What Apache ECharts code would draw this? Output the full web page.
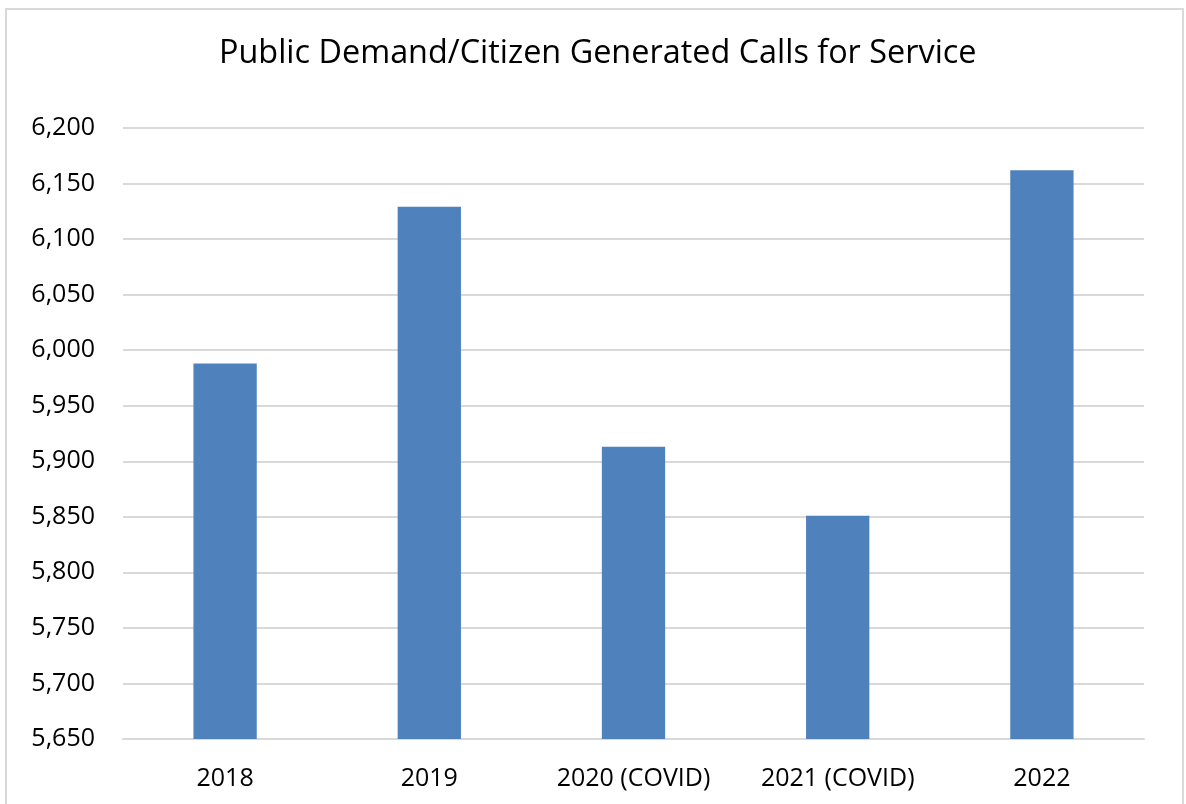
<!DOCTYPE html>
<html>
<head>
<meta charset="utf-8">
<script src="https://cdn.jsdelivr.net/npm/echarts@6/dist/echarts.min.js"></script>
<style>
  html, body { margin: 0; padding: 0; background: #ffffff; }
  #chart { width: 1186px; height: 804px; }
</style>
</head>
<body>
<div id="chart"></div>
<script>
// Annual citizen-generated calls for service
const categories = ['2018', '2019', '2020 (COVID)', '2021 (COVID)', '2022'];
const calls = [5988, 6129, 5913, 5851, 6162];
const yMin = 5650;
const yMax = 6200;
const yStep = 50;

const FONT = '"Open Sans", "Liberation Sans", sans-serif';

const chart = echarts.init(document.getElementById('chart'), null, { renderer: 'canvas' });
chart.setOption({
  backgroundColor: '#ffffff',
  animation: false,
  title: {
    text: 'Public Demand/Citizen Generated Calls for Service',
    left: 214,
    top: 33,
    textStyle: { fontFamily: FONT, fontSize: 32.4, fontWeight: 'normal', color: '#000000' }
  },
  graphic: [{
    type: 'rect',
    shape: { x: 6, y: 9, width: 1177, height: 900 },
    style: { fill: 'none', stroke: '#d9d9d9', lineWidth: 2 },
    silent: true
  }],
  grid: { left: 123, right: 42, top: 128, bottom: 65 },
  xAxis: {
    type: 'category',
    data: categories,
    axisLine: { show: true, lineStyle: { color: '#d9d9d9', width: 2 } },
    axisTick: { show: false },
    axisLabel: { fontFamily: FONT, fontSize: 25, color: '#000000', margin: 27 }
  },
  yAxis: {
    type: 'value',
    min: yMin,
    max: yMax,
    interval: yStep,
    axisLine: { show: false },
    axisTick: { show: false },
    splitLine: { lineStyle: { color: '#d9d9d9', width: 2 } },
    axisLabel: {
      fontFamily: FONT, fontSize: 25, color: '#000000', margin: 28,
      formatter: v => v.toLocaleString('en-US')
    }
  },
  series: [{
    type: 'bar',
    data: calls,
    barWidth: '31%',
    itemStyle: { color: '#4f81bd' }
  }]
});
</script>
</body>
</html>
